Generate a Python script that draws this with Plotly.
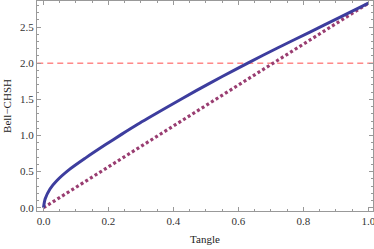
import plotly.graph_objects as go

# Data
tangle_curve = [0.0, 0.005, 0.02, 0.04, 0.08, 0.13, 0.19, 0.24, 0.29, 0.38, 0.47, 0.55, 0.63, 0.72, 0.82, 0.91, 1.0]
bell_curve = [0.0, 0.12, 0.26, 0.37, 0.53, 0.69, 0.87, 1.015, 1.155, 1.39, 1.62, 1.815, 2.005, 2.21, 2.43, 2.63, 2.83]

tangle_line = [0.0, 1.0]
bell_line = [0.0, 2.83]

classical_x = [-0.05, 1.05]
classical_y = [2.0, 2.0]

x_ticks = [0.0, 0.2, 0.4, 0.6, 0.8, 1.0]
y_ticks = [0.0, 0.5, 1.0, 1.5, 2.0, 2.5]

fig = go.Figure()
fig.add_trace(go.Scatter(x=classical_x, y=classical_y, mode="lines",
                         line=dict(color="#ff4d4d", width=1, dash="6px,4px"),
                         hoverinfo="skip", showlegend=False))
fig.add_trace(go.Scatter(x=tangle_line, y=bell_line, mode="lines",
                         line=dict(color="#993d71", width=3.2, dash="3px,2.5px"),
                         showlegend=False))
fig.add_trace(go.Scatter(x=tangle_curve, y=bell_curve, mode="lines",
                         line=dict(color="#3d3d9e", width=3, shape="spline", smoothing=0.7),
                         showlegend=False))

axis_common = dict(
    showgrid=False, zeroline=False, showline=True, linecolor="#999999", linewidth=1,
    mirror="allticks", ticks="inside", ticklen=4, tickwidth=1, tickcolor="#999999",
    tickformat=".1f", automargin=False, ticklabeloverflow="allow",
    tickfont=dict(family="Liberation Serif", size=11, color="#333333"),
)

fig.update_layout(
    width=374, height=249,
    margin=dict(l=37, r=1, t=1, b=38, autoexpand=False),
    paper_bgcolor="white", plot_bgcolor="white",
    xaxis=dict(range=[-0.02, 1.014], tickvals=x_ticks,
               minor=dict(dtick=0.05, tick0=0, ticks="inside", ticklen=2, tickcolor="#999999"),
               title=dict(text="Tangle", font=dict(family="Liberation Serif", size=11, color="#222222"),
                          standoff=9),
               **axis_common),
    yaxis=dict(range=[-0.045, 2.86], tickvals=y_ticks,
               minor=dict(dtick=0.1, tick0=0, ticks="inside", ticklen=2, tickcolor="#999999"),
               title=dict(text="Bell\u2212CHSH", font=dict(family="Liberation Serif", size=11, color="#222222"),
                          standoff=6),
               **axis_common),
)

fig.write_html("out.html", config={"displayModeBar": False},
               post_script="document.body.style.margin='0';document.body.style.padding='0';"
                           "document.documentElement.style.overflow='hidden';")
